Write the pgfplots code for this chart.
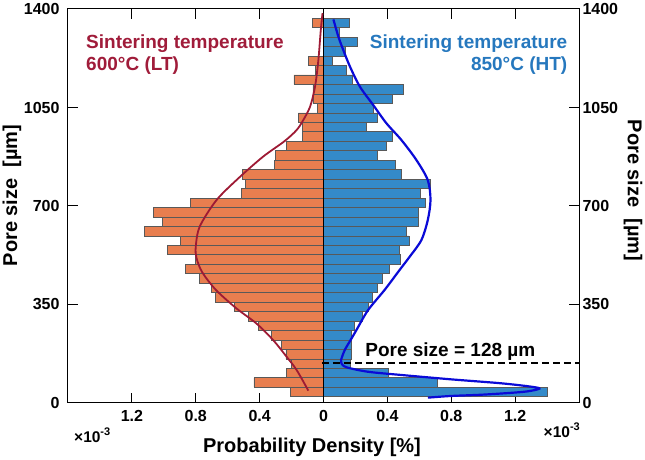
\documentclass[border=0pt]{standalone}
\usepackage{fontspec}
\setmainfont{Liberation Sans}
\usepackage{pgfplots}
\pgfplotsset{compat=1.18}
\usepackage{pgfplotstable}

\definecolor{ltbar}{RGB}{232,126,79}
\definecolor{htbar}{RGB}{52,138,201}
\definecolor{ltline}{RGB}{158,26,52}
\definecolor{lttext}{RGB}{160,28,58}
\definecolor{httext}{RGB}{38,120,190}
\definecolor{htline}{RGB}{10,10,215}

% y = bin centre (um), lt = 600C density (x1e-3, drawn to the left), ht = 850C density (x1e-3)
\pgfplotstableread{
y      lt      ht
39.2   -0.205  1.404
72.8   -0.436  0.713
106.4  -0.232  0.408
140.1  -0.200  0.165
173.7  -0.236  0.175
207.3  -0.262  0.175
240.9  -0.325  0.175
274.5  -0.410  0.190
308.2  -0.470  0.244
341.8  -0.559  0.280
375.4  -0.677  0.306
409.0  -0.700  0.338
442.6  -0.778  0.369
476.3  -0.866  0.410
509.9  -0.800  0.481
543.5  -0.977  0.473
577.1  -0.898  0.535
610.7  -1.120  0.519
644.4  -1.008  0.596
678.0  -1.065  0.596
711.6  -0.835  0.638
745.2  -0.515  0.608
778.8  -0.488  0.669
812.5  -0.506  0.488
846.1  -0.305  0.450
879.7  -0.302  0.335
913.3  -0.230  0.394
946.9  -0.133  0.430
980.6  -0.133  0.270
1014.2 -0.157  0.338
1047.8 -0.038  0.311
1081.4 -0.067  0.432
1115.0 -0.067  0.498
1148.7 -0.185  0.180
1182.3 -0.050  0.141
1215.9 -0.095  0.056
1249.5 0.000   0.135
1283.1 0.000   0.212
1316.8 0.000   0.100
1350.4 -0.069  0.162
}\bins

\begin{document}
\begin{tikzpicture}
\pgfplotsset{
  common/.style={
    scale only axis, width=511pt, height=394pt,
    xmin=-1.6, xmax=1.6, ymin=0, ymax=1400,
    ytick={0,350,700,1050,1400},
    /pgf/number format/assume math mode=true,
    /pgf/number format/1000 sep={},
    tick label style={font=\fontsize{16}{16}\selectfont\bfseries, black},
    axis line style={line width=1pt, black},
    tick style={line width=1pt, black},
    tick align=inside, major tick length=10pt,
  }
}
\begin{axis}[common, name=ax, clip=false,
  xtick={-1.2,-0.8,-0.4,0,0.4,0.8,1.2},
  xticklabels={1.2,0.8,0.4,0,0.4,0.8,1.2},
  tick pos=both, xticklabel pos=lower, yticklabel pos=left,
  yticklabel style={xshift=-5pt},
  xticklabel style={yshift=-4pt},
]
\addplot[xbar, bar width=33.62, bar shift=0pt, fill=ltbar, draw=black!65, line width=0.6pt]
  table[x=lt, y=y]{\bins};
\addplot[xbar, bar width=33.62, bar shift=0pt, fill=htbar, draw=black!65, line width=0.6pt]
  table[x=ht, y=y]{\bins};

\addplot[black, line width=1pt] coordinates {(0,0) (0,1400)};
\addplot[black, line width=1.5pt, dash pattern=on 7pt off 4pt] coordinates {(-0.01,142) (1.6,142)};

\addplot[ltline, line width=1.8pt, smooth] coordinates {
(-0.095,44) (-0.168,117) (-0.232,165) (-0.316,224) (-0.421,283) (-0.547,337)
(-0.674,402) (-0.760,465) (-0.795,515) (-0.800,555) (-0.775,627) (-0.670,721)
(-0.530,800) (-0.379,875) (-0.245,930) (-0.168,970) (-0.126,1006) (-0.084,1053)
(-0.053,1124) (-0.032,1219) (-0.017,1325) (-0.006,1385)};

\addplot[htline, line width=2.2pt, smooth, tension=0.5] coordinates {
(0.654,19) (0.800,25) (1.008,30) (1.258,40) (1.352,51) (1.300,58) (1.113,70)
(0.800,84) (0.488,99.5) (0.279,111) (0.144,127) (0.112,141) (0.110,153)
(0.133,188) (0.170,224) (0.206,259) (0.279,330) (0.383,402) (0.477,473)
(0.540,520) (0.613,579) (0.653,650) (0.670,721) (0.653,792) (0.581,864)
(0.487,935) (0.394,994) (0.311,1059) (0.228,1124) (0.166,1195) (0.124,1254)
(0.093,1302) (0.062,1363)};

\node[anchor=base west, inner sep=0pt, text=lttext, font=\fontsize{19}{19}\selectfont\bfseries]
  at (axis cs:-1.487,1261) {Sintering temperature};
\node[anchor=base west, inner sep=0pt, text=lttext, font=\fontsize{19}{19}\selectfont\bfseries]
  at (axis cs:-1.487,1181) {600°C (LT)};
\node[anchor=base east, inner sep=0pt, text=httext, font=\fontsize{19}{19}\selectfont\bfseries]
  at (axis cs:1.528,1261) {Sintering temperature};
\node[anchor=base east, inner sep=0pt, text=httext, font=\fontsize{19}{19}\selectfont\bfseries]
  at (axis cs:1.528,1181) {850°C (HT)};
\node[anchor=base west, inner sep=0pt, font=\fontsize{19}{19}\selectfont\bfseries]
  at (axis cs:0.261,167) {Pore size = 128 µm};

\node[anchor=west, inner sep=0pt, font=\fontsize{15.5}{15.5}\selectfont\bfseries]
  at ([xshift=6pt, yshift=-32pt]rel axis cs:0,0) {×10\raisebox{0.45em}{\fontsize{11}{11}\selectfont -3}};
\node[anchor=east, inner sep=0pt, font=\fontsize{15.5}{15.5}\selectfont\bfseries]
  at ([xshift=1pt, yshift=-27pt]rel axis cs:1,0) {×10\raisebox{0.45em}{\fontsize{11}{11}\selectfont -3}};

\node[anchor=base, inner sep=0pt, font=\fontsize{20}{20}\selectfont\bfseries]
  at ([yshift=-49pt]rel axis cs:0.4775,0) {Probability Density [\%]};
\node[rotate=90, inner sep=0pt, font=\fontsize{20}{20}\selectfont\bfseries]
  at ([xshift=-56pt]rel axis cs:0,0.527) {Pore size~~[µm]};
\node[rotate=-90, inner sep=0pt, font=\fontsize{20}{20}\selectfont\bfseries]
  at ([xshift=54pt]rel axis cs:1,0.539) {Pore size~~[µm]};
\end{axis}

\begin{axis}[common, at={(ax.south west)}, anchor=south west,
  axis x line=none, axis y line*=right,
  yticklabel pos=right, ytick style={draw=none},
]
\addplot[draw=none] coordinates {(0,0)};
\end{axis}

\pgfresetboundingbox
\path[use as bounding box] ([shift={(-68pt,-57pt)}]ax.south west) rectangle ([shift={(66pt,9pt)}]ax.north east);
\end{tikzpicture}
\end{document}
